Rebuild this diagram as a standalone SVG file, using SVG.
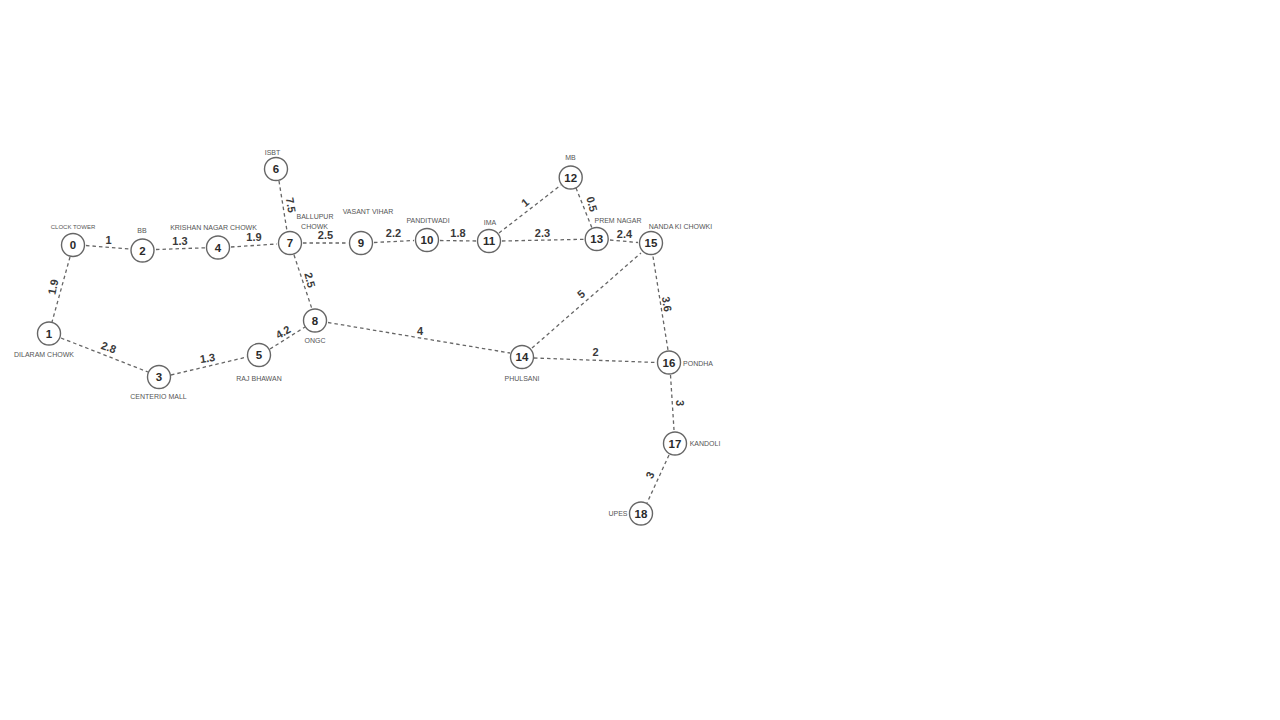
<svg xmlns="http://www.w3.org/2000/svg" width="1280" height="720" viewBox="0 0 1280 720">
<style>
.bg{fill:#fff}
.e{stroke:#666;stroke-width:1.3;stroke-dasharray:3.5 3;fill:none}
.n circle{fill:#fff;stroke:#666;stroke-width:1.4}
.n text{font:bold 11.5px "Liberation Sans",Arial,sans-serif;fill:#2a2a2a;text-anchor:middle}
.l{font:7px "Liberation Sans",Arial,sans-serif;fill:#555;text-anchor:middle}
.w{font:bold 11px "Liberation Sans",Arial,sans-serif;fill:#3a3a3a;text-anchor:middle}
</style>
<rect class="bg" width="1280" height="720"/>
<g id="connectors">
<path class="e" d="M86 245.500L130 249"/>
<path class="e" d="M156 249.500L205 247.800"/>
<path class="e" d="M231 247L277 244"/>
<path class="e" d="M303 243L347 243"/>
<path class="e" d="M374 242.500L414 240.500"/>
<path class="e" d="M440 240.500L476 241"/>
<path class="e" d="M502 241L584 239.300"/>
<path class="e" d="M610 240L638 242.500"/>
<path class="e" d="M499 233L561 185"/>
<path class="e" d="M576 188L592 228"/>
<path class="e" d="M279 181L287 231"/>
<path class="e" d="M294 255L312 309"/>
<path class="e" d="M70 257L52 322"/>
<path class="e" d="M61 338L148 372"/>
<path class="e" d="M171 375L247 357"/>
<path class="e" d="M270 349L305 327"/>
<path class="e" d="M328 322.500L510 353"/>
<path class="e" d="M534 358L657 362.500"/>
<path class="e" d="M532 348L641 253"/>
<path class="e" d="M653 256.500L668 350"/>
<path class="e" d="M670.500 375L674 430"/>
<path class="e" d="M669 455L647 503"/>
</g>
<g id="node-0" class="n"><circle cx="73" cy="245" r="11.500"/><text x="73" y="249">0</text></g>
<g id="node-1" class="n"><circle cx="49" cy="333.500" r="11.500"/><text x="49" y="337.500">1</text></g>
<g id="node-2" class="n"><circle cx="142.500" cy="250.500" r="11.500"/><text x="142.500" y="254.500">2</text></g>
<g id="node-3" class="n"><circle cx="159" cy="377" r="11.500"/><text x="159" y="381">3</text></g>
<g id="node-4" class="n"><circle cx="218" cy="247.500" r="11.500"/><text x="218" y="251.500">4</text></g>
<g id="node-5" class="n"><circle cx="259" cy="355" r="11.500"/><text x="259" y="359">5</text></g>
<g id="node-6" class="n"><circle cx="276" cy="169" r="11.500"/><text x="276" y="173">6</text></g>
<g id="node-7" class="n"><circle cx="290" cy="243" r="11.500"/><text x="290" y="247">7</text></g>
<g id="node-8" class="n"><circle cx="315" cy="320.500" r="11.500"/><text x="315" y="324.500">8</text></g>
<g id="node-9" class="n"><circle cx="361" cy="243" r="11.500"/><text x="361" y="247">9</text></g>
<g id="node-10" class="n"><circle cx="427" cy="240" r="11.500"/><text x="427" y="244">10</text></g>
<g id="node-11" class="n"><circle cx="489" cy="241" r="11.500"/><text x="489" y="245">11</text></g>
<g id="node-12" class="n"><circle cx="570.700" cy="177.500" r="11.500"/><text x="570.700" y="181.500">12</text></g>
<g id="node-13" class="n"><circle cx="596.700" cy="239" r="11.500"/><text x="596.700" y="243">13</text></g>
<g id="node-14" class="n"><circle cx="522" cy="357" r="11.500"/><text x="522" y="361">14</text></g>
<g id="node-15" class="n"><circle cx="651" cy="243" r="11.500"/><text x="651" y="247">15</text></g>
<g id="node-16" class="n"><circle cx="669" cy="362.500" r="11.500"/><text x="669" y="366.500">16</text></g>
<g id="node-17" class="n"><circle cx="675" cy="443.500" r="11.500"/><text x="675" y="447.500">17</text></g>
<g id="node-18" class="n"><circle cx="641" cy="513.500" r="11.500"/><text x="641" y="517.500">18</text></g>
<g id="station-labels">
<text class="l" x="73" y="229" style="font-size:6px">CLOCK TOWER</text>
<text class="l" x="44" y="357">DILARAM CHOWK</text>
<text class="l" x="142" y="233">BB</text>
<text class="l" x="158.500" y="399">CENTERIO MALL</text>
<text class="l" x="213.500" y="230">KRISHAN NAGAR CHOWK</text>
<text class="l" x="259" y="380.500">RAJ BHAWAN</text>
<text class="l" x="272.500" y="154.500">ISBT</text>
<text class="l" x="315" y="218.500">BALLUPUR</text>
<text class="l" x="314.500" y="228.500">CHOWK</text>
<text class="l" x="315" y="342.500">ONGC</text>
<text class="l" x="368" y="214">VASANT VIHAR</text>
<text class="l" x="428" y="222.500">PANDITWADI</text>
<text class="l" x="490" y="225">IMA</text>
<text class="l" x="570.500" y="159.500">MB</text>
<text class="l" x="618" y="223">PREM NAGAR</text>
<text class="l" x="680.500" y="229">NANDA KI CHOWKI</text>
<text class="l" x="522" y="380.500">PHULSANI</text>
<text class="l" x="698" y="365.500">PONDHA</text>
<text class="l" x="705" y="445.500">KANDOLI</text>
<text class="l" x="618" y="515.500">UPES</text>
</g>
<g id="edge-weights">
<text class="w" x="108.500" y="243.500">1</text>
<text class="w" x="180" y="244.500">1.3</text>
<text class="w" x="254" y="241">1.9</text>
<text class="w" x="325.500" y="239">2.5</text>
<text class="w" x="393.500" y="237">2.2</text>
<text class="w" x="458" y="237">1.8</text>
<text class="w" x="542.500" y="236.500">2.3</text>
<text class="w" x="624.500" y="237.500">2.4</text>
<text class="w" x="420" y="335">4</text>
<text class="w" x="595.500" y="356">2</text>
<text class="w" x="207.500" y="362" transform="rotate(-8 207.500 358)">1.3</text>
<text class="w" transform="translate(107 352) rotate(20)" y="-1">2.8</text>
<text class="w" transform="translate(283 332) rotate(-30)" y="4">4.2</text>
<text class="w" transform="translate(53 287) rotate(-78)" y="4">1.9</text>
<text class="w" transform="translate(291 205) rotate(80)" y="4">7.5</text>
<text class="w" transform="translate(310 280) rotate(75)" y="4">2.5</text>
<text class="w" transform="translate(525 202.500) rotate(-40)" y="4">1</text>
<text class="w" transform="translate(592 204) rotate(75)" y="4">0.5</text>
<text class="w" transform="translate(581 294) rotate(-40)" y="4">5</text>
<text class="w" transform="translate(667 304) rotate(80)" y="4">3.6</text>
<text class="w" transform="translate(680 403) rotate(90)" y="4">3</text>
<text class="w" transform="translate(650 475) rotate(-65)" y="4">3</text>
</g>
</svg>
